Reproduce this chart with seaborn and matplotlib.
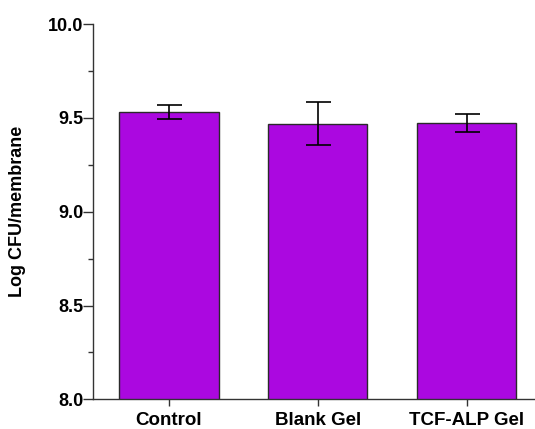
import numpy as np
import pandas as pd
import matplotlib
matplotlib.use('Agg')
import matplotlib.pyplot as plt
import seaborn as sns
from matplotlib.ticker import MultipleLocator

# Datos
groups = ["Control", "Blank Gel", "TCF-ALP Gel"]
log_cfu = [9.531, 9.469, 9.474]
sd = [0.035, 0.114, 0.048]

sns.set_style("ticks")
plt.rcParams['font.family'] = ['Liberation Sans', 'DejaVu Sans']
plt.rcParams['text.color'] = 'black'
plt.rcParams['xtick.labelcolor'] = 'black'
plt.rcParams['ytick.labelcolor'] = 'black'

df = pd.DataFrame({"group": groups, "value": log_cfu})

fig = plt.figure(figsize=(5.35, 4.29), dpi=100)
ax = fig.add_axes([0.174, 0.069, 0.826, 0.875])

sns.barplot(data=df, x="group", y="value", color="#AB08E0", saturation=1,
            width=0.667, edgecolor="#2a2a2a", linewidth=1.0, ax=ax, errorbar=None)
ax.errorbar(np.arange(len(groups)), log_cfu, yerr=sd, fmt="none",
            ecolor="black", elinewidth=1.2, capsize=9, capthick=1.2)

ax.set_ylim(8.0, 10.0)
ax.set_xlim(-0.51, 2.46)
ax.yaxis.set_minor_locator(MultipleLocator(0.25))
ax.set_yticks([8.0, 8.5, 9.0, 9.5, 10.0])
ax.set_yticklabels(["8.0", "8.5", "9.0", "9.5", "10.0"], fontsize=13, fontweight="bold")
ax.set_xticks(range(len(groups)))
ax.set_xticklabels(groups, fontsize=13.5, fontweight="bold")
ax.set_xlabel("")
ax.set_ylabel("Log CFU/membrane", fontsize=13, fontweight="bold", labelpad=16, color="black")

sns.despine(ax=ax, top=True, right=True)
for s in ["left", "bottom"]:
    ax.spines[s].set_linewidth(1.0)
    ax.spines[s].set_color("#333333")
ax.tick_params(axis="y", which="major", length=7, width=1.0, color="#333333", pad=0,
               labelcolor="black")
ax.tick_params(axis="y", which="minor", length=3.5, width=1.0, color="#333333")
ax.tick_params(axis="x", length=5, width=1.0, color="#333333", pad=4, labelcolor="black")

fig.savefig("out.png", dpi=100)
